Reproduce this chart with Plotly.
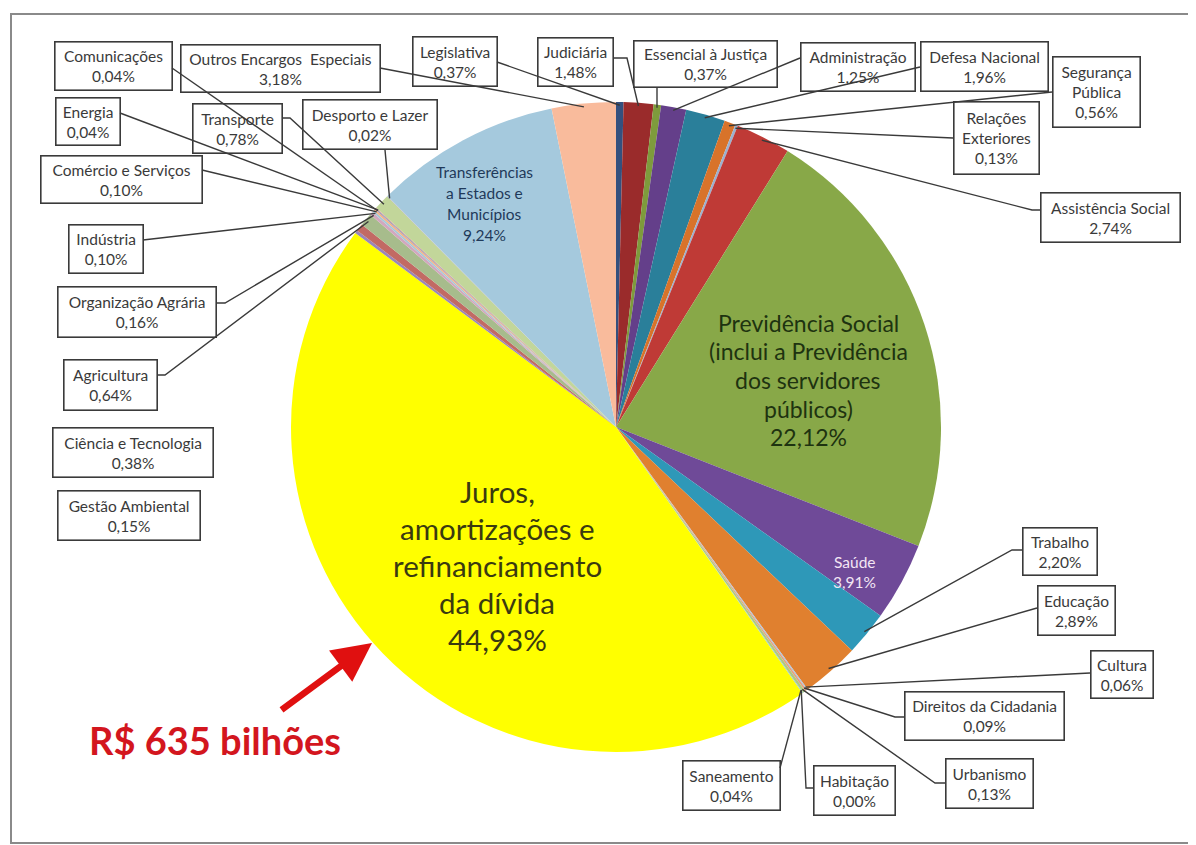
import math
import plotly.graph_objects as go

# ---------------- data ----------------
labels = ["Legislativa", "Judiciária", "Essencial à Justiça", "Administração",
          "Defesa Nacional", "Segurança Pública", "Relações Exteriores",
          "Assistência Social", "Previdência Social", "Saúde", "Trabalho",
          "Educação", "Cultura", "Direitos da Cidadania", "Urbanismo",
          "Habitação", "Saneamento",
          "Juros, amortizações e refinanciamento da dívida",
          "Gestão Ambiental", "Ciência e Tecnologia", "Agricultura",
          "Organização Agrária", "Indústria", "Comércio e Serviços",
          "Comunicações", "Energia", "Transporte", "Desporto e Lazer",
          "Transferências a Estados e Municípios", "Outros Encargos Especiais"]
values = [0.37, 1.48, 0.37, 1.25, 1.96, 0.56, 0.13, 2.74, 22.12, 3.91, 2.20,
          2.89, 0.06, 0.09, 0.13, 0.00, 0.04, 44.93, 0.15, 0.38, 0.64, 0.16,
          0.10, 0.10, 0.04, 0.04, 0.78, 0.02, 9.24, 3.18]
colors = ["#34507E", "#9A2B2B", "#7E9B3C", "#643F8A", "#2A7F9A", "#D8732A",
          "#9CB1CF", "#BF3A36", "#88A848", "#6F4A98", "#2E98B8", "#E0802F",
          "#A9C4E0", "#E6A080", "#B0C880", "#C0A0D0", "#90C8D8", "#FFFF00",
          "#9A86B8", "#C26A64", "#A7BC8C", "#D2A7BE", "#A6C8D6", "#F3B38A",
          "#8096C4", "#D8908C", "#C2D69A", "#B8A6CC", "#A5C9DD", "#F9BB9C"]
total_label = "R$ 635 bilhões"

# ---------------- layout constants (pixels in the page) ----------------
OFF = 8                      # page body margin
W, H = 1196 - OFF, 845 - OFF  # figure size
CX, CY, R = 616, 427, 325
FONT = "Lato"

def X(x):
    return (x - OFF) / W

def Y(y):
    return 1 - (y - OFF) / H

def pct(v):
    return f"{v:.2f}".replace(".", ",") + "%"

# callout boxes: (x0, y0, x1, y1), text lines of the name, leader line points
callouts = {
    "Comunicações": ((54, 42, 172, 91), ["Comunicações"], [(172, 68)]),
    "Outros Encargos Especiais": ((180, 44, 380, 92), ["Outros Encargos  Especiais"], [(380, 68)]),
    "Legislativa": ((412, 37, 497, 87), ["Legislativa"], [(497, 62)]),
    "Judiciária": ((537, 38, 613, 87), ["Judiciária"], [(613, 58), (627, 58)]),
    "Essencial à Justiça": ((633, 40, 777, 87), ["Essencial à Justiça"], [(657, 87)]),
    "Administração": ((800, 43, 915, 92), ["Administração"], [(800, 58)]),
    "Defesa Nacional": ((920, 42, 1048, 92), ["Defesa Nacional"], [(920, 67)]),
    "Segurança Pública": ((1052, 57, 1140, 128), ["Segurança", "Pública"], [(1052, 92)]),
    "Relações Exteriores": ((953, 102, 1039, 175), ["Relações", "Exteriores"], [(953, 138)]),
    "Assistência Social": ((1040, 192, 1180, 242), ["Assistência Social"], [(1040, 210), (1032, 210)]),
    "Energia": ((55, 97, 120, 145), ["Energia"], [(120, 113)]),
    "Transporte": ((192, 103, 282, 153), ["Transporte"], [(282, 118), (290, 118)]),
    "Desporto e Lazer": ((302, 100, 437, 150), ["Desporto e Lazer"], [(385, 150)]),
    "Comércio e Serviços": ((40, 155, 202, 203), ["Comércio e Serviços"], [(202, 170)]),
    "Indústria": ((68, 224, 143, 273), ["Indústria"], [(143, 240)]),
    "Organização Agrária": ((57, 286, 216, 337), ["Organização Agrária"], [(216, 303), (225, 303)]),
    "Agricultura": ((64, 359, 158, 410), ["Agricultura"], [(158, 375), (165, 375)]),
    "Ciência e Tecnologia": ((52, 427, 213, 477), ["Ciência e Tecnologia"], []),
    "Gestão Ambiental": ((57, 490, 200, 540), ["Gestão Ambiental"], []),
    "Trabalho": ((1022, 527, 1097, 575), ["Trabalho"], [(1022, 550), (1012, 550)]),
    "Educação": ((1037, 585, 1115, 635), ["Educação"], [(1037, 608)]),
    "Cultura": ((1090, 650, 1153, 698), ["Cultura"], [(1090, 673)]),
    "Direitos da Cidadania": ((905, 691, 1065, 740), ["Direitos da Cidadania"], [(905, 717), (895, 717)]),
    "Urbanismo": ((945, 758, 1033, 808), ["Urbanismo"], [(945, 783), (935, 783)]),
    "Habitação": ((813, 765, 895, 815), ["Habitação"], [(813, 788), (806, 788)]),
    "Saneamento": ((682, 760, 780, 810), ["Saneamento"], [(780, 768)]),
}

# inside labels: lines, center x, first line y, spacing, size, color
inside = {
    "Transferências a Estados e Municípios": (["Transferências", "a Estados e", "Municípios"], 484, 172, 21, 15.5, "#1F3A5A"),
    "Previdência Social": (["Previdência Social", "(inclui a Previdência", "dos servidores", "públicos)"], 808, 323, 28.5, 23, "#1E3310"),
    "Saúde": (["Saúde"], 855, 562, 20, 15.5, "#F3E6F4"),
    "Juros, amortizações e refinanciamento da dívida": (["Juros,", "amortizações e", "refinanciamento", "da dívida"], 497, 491, 37, 29.5, "#3A3A10"),
}

# ---------------- figure ----------------
fig = go.Figure()
fig.add_trace(go.Pie(
    labels=labels, values=values, sort=False, direction="clockwise", rotation=0,
    marker=dict(colors=colors, line=dict(width=0)),
    textinfo="none", hoverinfo="label+percent", showlegend=False,
    domain=dict(x=[X(CX - R), X(CX + R)], y=[Y(CY + R), Y(CY - R)]),
))

total = sum(values)
mid = {}
cum = 0.0
for lab, v in zip(labels, values):
    a = math.radians((cum + v / 2) / total * 360)
    mid[lab] = a
    cum += v

shapes = []
annotations = []
vals = dict(zip(labels, values))

for lab, (box, names, pts) in callouts.items():
    x0, y0, x1, y1 = box
    text = "<br>".join(names + [pct(vals[lab])])
    annotations.append(dict(
        x=X((x0 + x1) / 2), y=Y((y0 + y1) / 2), xref="paper", yref="paper",
        xanchor="center", yanchor="middle", showarrow=False,
        text=text, align="center", valign="middle",
        width=x1 - x0 - 2, height=y1 - y0 - 2, borderpad=0,
        bordercolor="#3A3A3A", borderwidth=1.6,
        font=dict(family=FONT, size=15.5, color="#3A3A3A"),
    ))
    if pts:
        a = mid[lab]
        ex, ey = CX + R * 0.99 * math.sin(a), CY - R * 0.99 * math.cos(a)
        allp = pts + [(ex, ey)]
        path = "M " + " L ".join(f"{X(px)},{Y(py)}" for px, py in allp)
        shapes.append(dict(type="path", path=path, xref="paper", yref="paper",
                           line=dict(color="#3A3A3A", width=1.4)))

for lab, (lines, cx, y0, dy, size, col) in inside.items():
    all_lines = lines + [pct(vals[lab])]
    for i, t in enumerate(all_lines):
        annotations.append(dict(
            x=X(cx), y=Y(y0 + i * dy), xref="paper", yref="paper",
            xanchor="center", yanchor="middle", showarrow=False, text=t,
            font=dict(family=FONT, size=size, color=col),
        ))

# total label with arrow
annotations.append(dict(
    x=X(215), y=Y(740), xref="paper", yref="paper", xanchor="center", yanchor="middle",
    showarrow=False, text=f"<b>{total_label}</b>",
    font=dict(family=FONT, size=38, color="#D3161E"),
))
annotations.append(dict(
    x=X(372), y=Y(643), xref="paper", yref="paper", ax=-92, ay=68,
    axref="pixel", ayref="pixel", showarrow=True, text="",
    arrowhead=2, arrowsize=1.2, arrowwidth=6.5, arrowcolor="#E01010",
))

# outer frame (left, top and bottom edges visible)
frame = [(1200, 14), (11, 14), (11, 843), (1200, 843)]
shapes.append(dict(type="path", xref="paper", yref="paper",
                   path="M " + " L ".join(f"{X(a)},{Y(b)}" for a, b in frame),
                   line=dict(color="#8A8A8A", width=2)))

fig.update_layout(
    width=W, height=H, margin=dict(l=0, r=0, t=0, b=0),
    paper_bgcolor="white", plot_bgcolor="white",
    shapes=shapes, annotations=annotations,
)

fig.write_html("out.html")
